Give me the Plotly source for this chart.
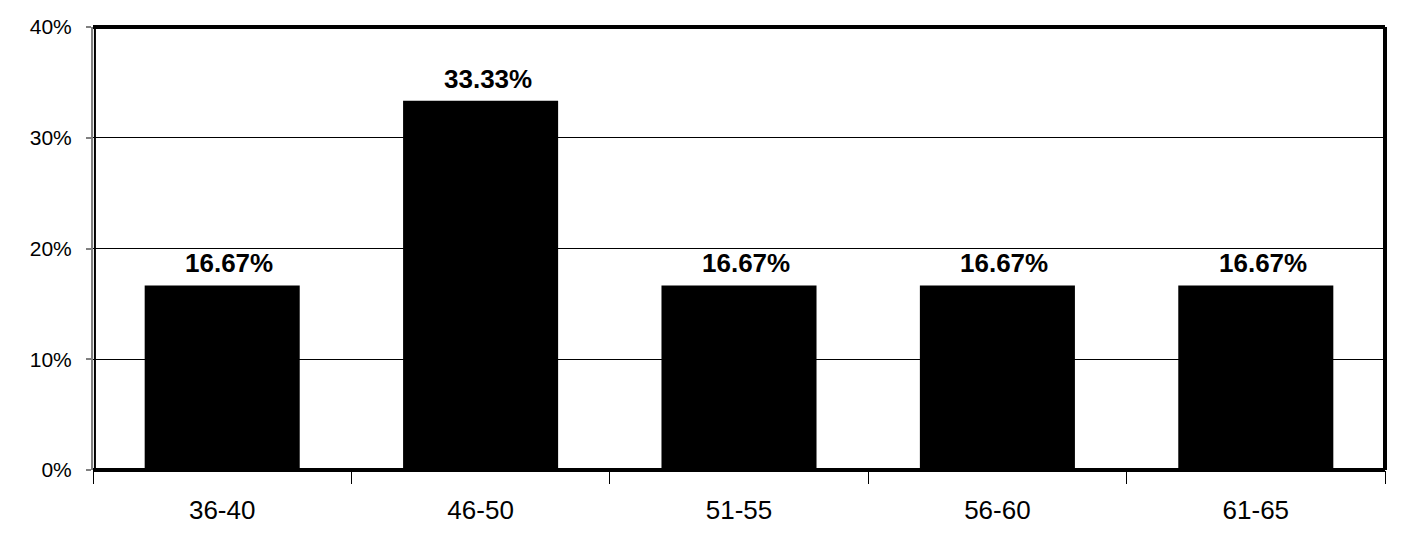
import plotly.graph_objects as go

categories = ["36-40", "46-50", "51-55", "56-60", "61-65"]
values = [16.67, 33.33, 16.67, 16.67, 16.67]
y_ticks = [0, 10, 20, 30, 40]
y_tick_labels = ["0%", "10%", "20%", "30%", "40%"]

font = "Liberation Sans, Arial, sans-serif"

fig = go.Figure(go.Bar(
    x=categories, y=values,
    marker=dict(color="black", line=dict(width=0)),
))

for c, v in zip(categories, values):
    fig.add_annotation(
        x=c, y=v, xref="x", yref="y", text=f"{v:.2f}%",
        showarrow=False, yanchor="bottom", xanchor="center",
        xshift=7, yshift=5,
        font=dict(family=font, size=26, color="black", weight="bold"),
    )

fig.update_layout(
    width=1419, height=528,
    margin=dict(l=85, r=42, t=19, b=66, autoexpand=False),
    paper_bgcolor="white", plot_bgcolor="white",
    bargap=0.4, showlegend=False,
    xaxis=dict(
        automargin=False,
        tickson="boundaries", ticks="outside", ticklen=13, tickcolor="black", tickwidth=1,
        ticklabelstandoff=22,
        tickfont=dict(family=font, size=26, color="black"),
        showgrid=False, showline=False, zeroline=False,
    ),
    yaxis=dict(
        automargin=False,
        range=[0, 40], tickvals=y_ticks, ticktext=y_tick_labels,
        ticks="outside", ticklen=5, tickcolor="#808080", tickwidth=2,
        ticklabelstandoff=10,
        tickfont=dict(family=font, size=21, color="black"),
        showgrid=True, gridcolor="black", gridwidth=1,
        showline=True, linecolor="#808080", linewidth=2,
        zeroline=False,
    ),
    shapes=[
        dict(type="line", xref="paper", yref="paper", x0=0, x1=1, y0=1, y1=1,
             line=dict(color="black", width=4)),
        dict(type="line", xref="paper", yref="paper", x0=1, x1=1, y0=0, y1=1,
             line=dict(color="black", width=4)),
        dict(type="line", xref="paper", yref="paper", x0=0, x1=1, y0=0, y1=0,
             line=dict(color="black", width=4)),
        dict(type="line", xref="paper", yref="paper", x0=0.0015, x1=0.0015, y0=0, y1=1,
             line=dict(color="black", width=2)),
    ],
)

fig.write_html("out.html")
